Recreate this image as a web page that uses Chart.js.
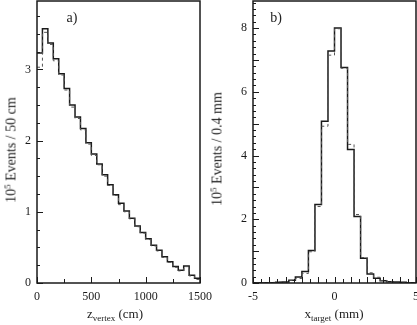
<!DOCTYPE html>
<html>
<head>
<meta charset="utf-8">
<script src="https://cdn.jsdelivr.net/npm/chart.js@4"></script>
<style>
  body { margin: 0; background: #fff; }
  #wrap { position: relative; width: 417px; height: 325px; overflow: hidden; font-family: "Liberation Serif", serif; color: #222; }
  canvas { position: absolute; top: 0; }
  .lbl { position: absolute; white-space: nowrap; transform: translate(-50%, -50%); }
  .yt { font-size: 14px; transform: translate(-50%, -50%) rotate(-90deg); }
  .xt { font-size: 13px; }
  .xt sub { font-size: 9px; vertical-align: -3px; }
  .yt sup { font-size: 9px; vertical-align: 5px; }
  .pl { font-size: 14px; }
</style>
</head>
<body>
<div id="wrap">
  <canvas id="chartA" width="215" height="325" style="left:0;width:215px;height:325px"></canvas>
  <canvas id="chartB" width="202" height="325" style="left:215px;width:202px;height:325px"></canvas>
  <div class="lbl yt" style="left:11px;top:150px">10<sup>5</sup> Events / 50 cm</div>
  <div class="lbl yt" style="left:217px;top:149px">10<sup>5</sup> Events / 0.4 mm</div>
  <div class="lbl xt" style="left:115px;top:314px">z<sub>vertex</sub> (cm)</div>
  <div class="lbl xt" style="left:334px;top:314px">x<sub>target</sub> (mm)</div>
  <div class="lbl pl" style="left:72px;top:18px">a)</div>
  <div class="lbl pl" style="left:276px;top:18px">b)</div>
</div>
<script>
// panel a: z vertex, bins of 50 cm
const zEdges = [0, 50, 100, 150, 200, 250, 300, 350, 400, 450, 500, 550, 600, 650, 700, 750,
  800, 850, 900, 950, 1000, 1050, 1100, 1150, 1200, 1250, 1300, 1350, 1400, 1450, 1500];
const zSolid = [3.23, 3.57, 3.37, 3.15, 2.94, 2.73, 2.50, 2.33, 2.17, 1.97, 1.81, 1.67, 1.52, 1.38, 1.24,
  1.12, 1.01, 0.91, 0.80, 0.71, 0.62, 0.53, 0.46, 0.37, 0.30, 0.23, 0.18, 0.24, 0.11, 0.065];
const zDashed = [3.03, 3.52, 3.35, 3.12, 2.92, 2.71, 2.47, 2.31, 2.15, 1.95, 1.79, 1.66, 1.50, 1.37, 1.23,
  1.10, 1.00, 0.90, 0.79, 0.70, 0.61, 0.52, 0.45, 0.36, 0.29, 0.22, 0.17, 0.23, 0.10, 0.05];

// panel b: x target, bins of 0.4 mm
const xEdges = [-5.2, -4.8, -4.4, -4.0, -3.6, -3.2, -2.8, -2.4, -2.0, -1.6, -1.2, -0.8, -0.4, 0,
  0.4, 0.8, 1.2, 1.6, 2.0, 2.4, 2.8, 3.2, 3.6, 4.0, 4.4, 4.8, 5.2];
const xSolid = [0.01, 0.01, 0.01, 0.01, 0.02, 0.03, 0.09, 0.19, 0.36, 1.02, 2.46, 5.08, 7.28, 8.00,
  6.76, 4.19, 2.09, 0.78, 0.28, 0.15, 0.07, 0.04, 0.03, 0.02, 0.01, 0.01];
const xDashed = [0.01, 0.01, 0.01, 0.02, 0.03, 0.04, 0.08, 0.14, 0.30, 0.98, 2.40, 4.92, 7.15, 7.98,
  6.74, 4.35, 2.15, 0.80, 0.32, 0.18, 0.08, 0.05, 0.03, 0.02, 0.01, 0.01];

const ink = "#1a1a1a";
const tickFont = { family: "Liberation Serif", size: 12 };

// histogram steps: one point per bin edge
function steps(edges, vals) {
  return edges.map((e, i) => ({ x: e, y: vals[Math.min(i, vals.length - 1)] }));
}

// box around the plot + inward tick marks
const frameTicks = {
  id: "frameTicks",
  afterDatasetsDraw(chart, args, o) {
    const { ctx, chartArea: a, scales: { x, y } } = chart;
    ctx.save();
    ctx.strokeStyle = ink;
    ctx.lineWidth = 1;
    ctx.beginPath();
    for (let v = y.min; v <= y.max + 1e-9; v += o.yMinor) {
      const r = Math.round(v / o.yMajor * 1000) / 1000;
      const len = Number.isInteger(r) ? 6 : 3;
      const py = Math.round(y.getPixelForValue(v)) + 0.5;
      ctx.moveTo(a.left, py); ctx.lineTo(a.left + len, py);
    }
    for (let v = x.min; v <= x.max + 1e-9; v += o.xMinor) {
      const r = Math.round(v / o.xMajor * 1000) / 1000;
      const len = Number.isInteger(r) ? 6 : 4;
      const px = Math.round(x.getPixelForValue(v)) + 0.5;
      ctx.moveTo(px, a.bottom); ctx.lineTo(px, a.bottom - len);
    }
    ctx.stroke();
    ctx.lineWidth = 1.5;
    ctx.strokeRect(a.left, a.top, a.right - a.left, a.bottom - a.top);
    ctx.restore();
  }
};

function makeChart(id, edges, solid, dashed, xr, yr, pad, yWidth, tk) {
  new Chart(document.getElementById(id), {
    type: "line",
    data: {
      datasets: [
        {
          data: steps(edges, dashed),
          borderColor: "#555",
          borderWidth: 1,
          borderDash: [3, 3],
          stepped: "before",
          pointRadius: 0
        },
        {
          data: steps(edges, solid),
          borderColor: ink,
          borderWidth: 1.5,
          stepped: "before",
          pointRadius: 0
        }
      ]
    },
    options: {
      responsive: false,
      animation: false,
      events: [],
      layout: { padding: pad },
      plugins: { legend: { display: false }, tooltip: { enabled: false }, frameTicks: tk },
      scales: {
        x: {
          type: "linear",
          min: xr[0], max: xr[1],
          grid: { display: false, drawTicks: false },
          border: { display: false },
          ticks: { stepSize: xr[2], includeBounds: false, font: tickFont, color: ink, padding: 7,
            maxRotation: 0, autoSkip: false, callback: v => String(v) },
          afterFit: s => { s.height = 42; s.paddingLeft = 0; s.paddingRight = 0; }
        },
        y: {
          min: yr[0], max: yr[1],
          grid: { display: false, drawTicks: false },
          border: { display: false },
          ticks: { stepSize: yr[2], includeBounds: false, font: tickFont, color: ink, padding: 6,
            callback: v => String(v) },
          afterFit: s => { s.width = yWidth; s.paddingTop = 0; s.paddingBottom = 0; }
        }
      }
    },
    plugins: [frameTicks]
  });
}

makeChart("chartA", zEdges, zSolid, zDashed, [0, 1500, 500], [0, 3.96, 1],
  { top: 1, right: 15, left: 0, bottom: 0 }, 37,
  { yMinor: 0.25, yMajor: 1, xMinor: 250, xMajor: 500 });

makeChart("chartB", xEdges, xSolid, xDashed, [-5, 5, 5], [0, 8.85, 2],
  { top: 1, right: 1, left: 0, bottom: 0 }, 38,
  { yMinor: 0.2, yMajor: 1, xMinor: 0.5, xMajor: 1 });
</script>
</body>
</html>
